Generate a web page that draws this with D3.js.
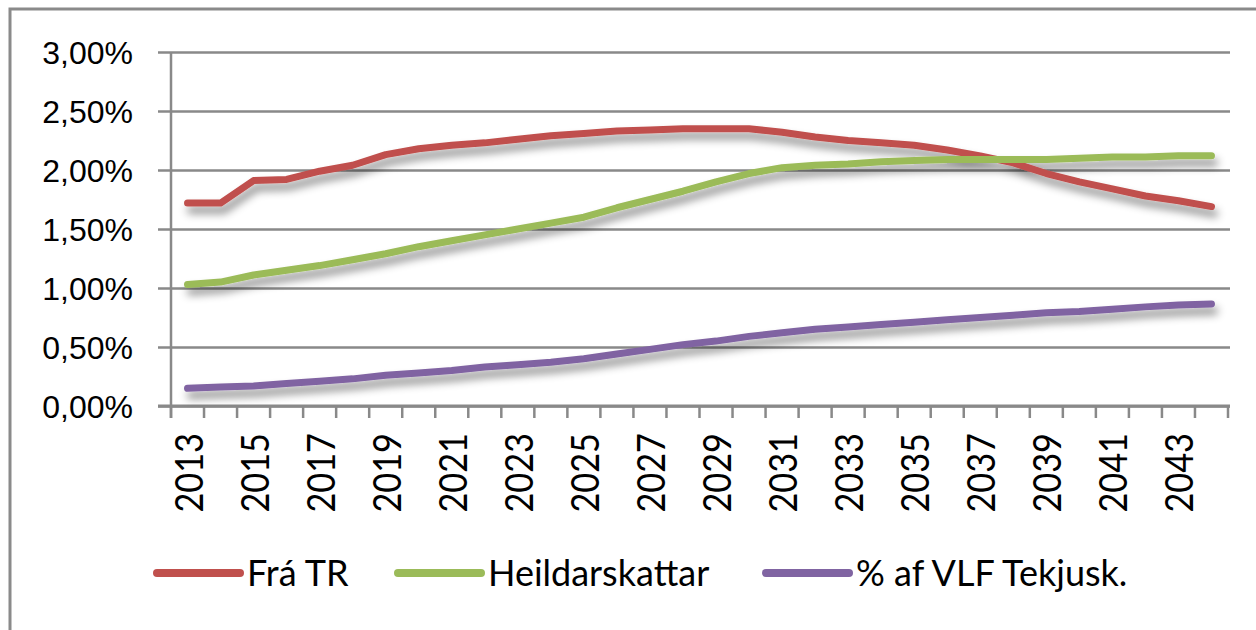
<!DOCTYPE html>
<html>
<head>
<meta charset="utf-8">
<script src="https://cdn.jsdelivr.net/npm/d3@7/dist/d3.min.js"></script>
<style>
    body { margin: 0; background: #fff; }
    svg { display: block; font-family: Lato, "Liberation Sans", sans-serif; }
</style>
</head>
<body>
<svg id="chart" width="1256" height="630"></svg>
<script>
// --- data ---
const years = ["2013","2014","2015","2016","2017","2018","2019","2020","2021","2022",
    "2023","2024","2025","2026","2027","2028","2029","2030","2031","2032",
    "2033","2034","2035","2036","2037","2038","2039","2040","2041","2042",
    "2043","2044"];

const fraTR = [1.72, 1.72, 1.91, 1.92, 1.99, 2.04, 2.13, 2.18, 2.21, 2.23,
    2.26, 2.29, 2.31, 2.33, 2.34, 2.35, 2.35, 2.35, 2.32, 2.28,
    2.25, 2.23, 2.21, 2.17, 2.12, 2.06, 1.97, 1.90, 1.84, 1.78,
    1.74, 1.69];

const heildarskattar = [1.03, 1.05, 1.11, 1.15, 1.19, 1.24, 1.29, 1.35, 1.40, 1.45,
    1.50, 1.55, 1.60, 1.68, 1.75, 1.82, 1.90, 1.97, 2.02, 2.04,
    2.05, 2.07, 2.08, 2.09, 2.09, 2.09, 2.09, 2.10, 2.11, 2.11,
    2.12, 2.12];

const vlfTekjusk = [0.15, 0.16, 0.17, 0.19, 0.21, 0.23, 0.26, 0.28, 0.30, 0.33,
    0.35, 0.37, 0.40, 0.44, 0.48, 0.52, 0.55, 0.59, 0.62, 0.65,
    0.67, 0.69, 0.71, 0.73, 0.75, 0.77, 0.79, 0.80, 0.82, 0.84,
    0.855, 0.865];

const seriesNames = ["Frá TR", "Heildarskattar", "% af VLF Tekjusk."];
const yTickValues = [0, 0.5, 1, 1.5, 2, 2.5, 3];

// --- drawing ---
const series = [
    { name: seriesNames[0], values: fraTR, color: "#C0504D" },
    { name: seriesNames[1], values: heildarskattar, color: "#9BBB59" },
    { name: seriesNames[2], values: vlfTekjusk, color: "#8064A2" }
];

const svg = d3.select("#chart");
const gridColor = "#898989";

// outer frame
svg.append("rect")
    .attr("x", 10).attr("y", 9)
    .attr("width", 1300).attr("height", 700)
    .attr("fill", "none")
    .attr("stroke", "#8a8a8a")
    .attr("stroke-width", 3);

const x = d3.scaleBand().domain(years).range([171, 1228]).paddingInner(0).paddingOuter(0);
const y = d3.scaleLinear().domain([0, 3]).range([406, 52]);

const defs = svg.append("defs");
const shadow = defs.append("filter").attr("id", "shadow")
    .attr("x", "-10%").attr("y", "-50%").attr("width", "120%").attr("height", "200%");
shadow.append("feDropShadow")
    .attr("dx", 3).attr("dy", 7)
    .attr("stdDeviation", 4)
    .attr("flood-color", "#000")
    .attr("flood-opacity", 0.45);

// gridlines + y axis
const locale = d3.formatLocale({ decimal: ",", thousands: ".", grouping: [3], currency: ["", ""] });
const fmt = locale.format(".2f");

const yAxis = d3.axisLeft(y)
    .tickValues(yTickValues)
    .tickSize(-(1230 - 171))
    .tickPadding(0)
    .tickFormat(d => fmt(d) + "%");

const gy = svg.append("g").attr("transform", "translate(171,0)").call(yAxis);
gy.select(".domain").remove();
gy.selectAll(".tick line")
    .attr("x1", -13)
    .attr("stroke", gridColor)
    .attr("stroke-width", 2.5);
gy.selectAll(".tick text")
    .attr("x", -38)
    .attr("dy", 11.5)
    .attr("fill", "#000")
    .style("font-size", "32px")
    .attr("text-anchor", "end");

// y axis line
svg.append("line")
    .attr("x1", 171).attr("x2", 171)
    .attr("y1", y(3)).attr("y2", 418)
    .attr("stroke", gridColor).attr("stroke-width", 2.5);

// x axis line and ticks on category boundaries
svg.append("line")
    .attr("x1", 158).attr("x2", 1230)
    .attr("y1", y(0)).attr("y2", y(0))
    .attr("stroke", gridColor).attr("stroke-width", 3);

const boundaries = years.map(d => x(d)).concat([x.range()[1]]);
svg.append("g").selectAll("line")
    .data(boundaries)
    .join("line")
    .attr("x1", d => d).attr("x2", d => d)
    .attr("y1", y(0)).attr("y2", 418)
    .attr("stroke", gridColor).attr("stroke-width", 2.5);

// x labels, every other year, rotated
svg.append("g").selectAll("text")
    .data(years.filter((d, i) => i % 2 === 0))
    .join("text")
    .attr("transform", d => `translate(${x(d) + x.bandwidth() / 2 + 15},433) rotate(-90) scale(0.98,1.12)`)
    .attr("text-anchor", "end")
    .style("font-size", "35px")
    .attr("fill", "#000")
    .text(d => d);

// series lines
const line = d3.line()
    .x((d, i) => x(years[i]) + x.bandwidth() / 2)
    .y(d => y(d));

svg.append("g").attr("filter", "url(#shadow)")
    .selectAll("path")
    .data(series)
    .join("path")
    .attr("d", d => line(d.values))
    .attr("fill", "none")
    .attr("stroke", d => d.color)
    .attr("stroke-width", 7)
    .attr("stroke-linecap", "round")
    .attr("stroke-linejoin", "round");

// legend
const legendX = [157, 398, 766];
const legend = svg.append("g").selectAll("g")
    .data(series)
    .join("g")
    .attr("transform", (d, i) => `translate(${legendX[i]},573)`);

legend.append("line")
    .attr("x1", 0).attr("x2", 83)
    .attr("stroke", d => d.color)
    .attr("stroke-width", 8)
    .attr("stroke-linecap", "round");

legend.append("text")
    .attr("x", 90)
    .attr("y", 13)
    .style("font-size", "36px")
    .attr("fill", "#000")
    .text(d => d.name);
</script>
</body>
</html>
